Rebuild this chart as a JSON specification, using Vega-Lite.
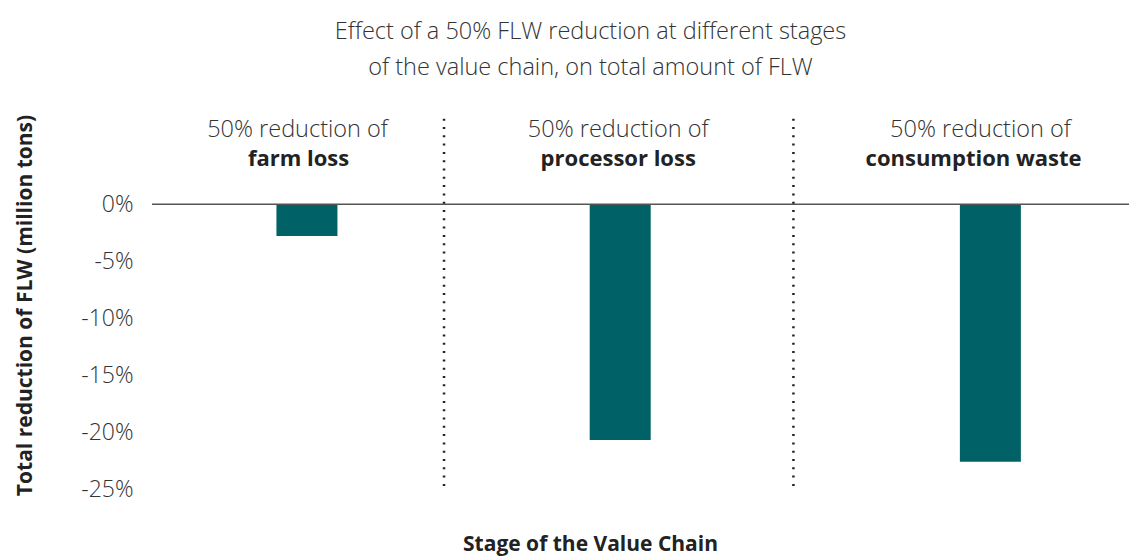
{
  "$schema": "https://vega.github.io/schema/vega-lite/v6.json",
  "width": 977,
  "height": 376,
  "autosize": "none",
  "padding": {"left": 152, "top": 113, "right": 0, "bottom": 68},
  "background": "white",
  "config": {
    "view": {"stroke": null},
    "font": "Open Sans",
    "text": {"font": "Open Sans"}
  },
  "title": {
    "text": ["Effect of a 50% FLW reduction at different stages", "of the value chain, on total amount of FLW"],
    "anchor": "middle",
    "dx": -50,
    "offset": 34,
    "fontSize": 23.5,
    "fontWeight": 300,
    "color": "#333333",
    "lineHeight": 36,
    "font": "Open Sans"
  },
  "datasets": {
    "bars": [
      {"stage": "farm loss", "pos": 151.5, "value": -2.8},
      {"stage": "processor loss", "pos": 468, "value": -20.7},
      {"stage": "consumption waste", "pos": 842, "value": -22.6}
    ],
    "dividers": [
      {"pos": 290, "top": 7.5, "bottom": -25},
      {"pos": 643, "top": 7.5, "bottom": -25}
    ],
    "labels": [
      {"pos": 142, "y": 6.5, "text": "50% reduction of", "kind": "light"},
      {"pos": 143, "y": 3.95, "text": "farm loss", "kind": "bold"},
      {"pos": 466, "y": 6.5, "text": "50% reduction of", "kind": "light"},
      {"pos": 466, "y": 3.95, "text": "processor loss", "kind": "bold"},
      {"pos": 832, "y": 6.5, "text": "50% reduction of", "kind": "light"},
      {"pos": 825, "y": 3.95, "text": "consumption waste", "kind": "bold"}
    ],
    "zero": [{"y": 0}]
  },
  "layer": [
    {
      "data": {"name": "bars"},
      "mark": {"type": "bar", "size": 61, "color": "#006266"},
      "encoding": {
        "x": {
          "field": "pos", "type": "quantitative",
          "scale": {"domain": [0, 977], "nice": false, "zero": false},
          "axis": {
            "domain": false, "ticks": false, "labels": false, "grid": false,
            "title": "Stage of the Value Chain",
            "titleFontSize": 21, "titleFontWeight": "bold", "titleColor": "#222222",
            "titleX": 438, "titleY": 61, "titleBaseline": "alphabetic", "titleFont": "Open Sans"
          }
        },
        "y": {
          "field": "value", "type": "quantitative",
          "scale": {"domain": [-25, 8], "nice": false, "zero": false},
          "axis": {
            "values": [0, -5, -10, -15, -20, -25],
            "labelExpr": "datum.value + '%'",
            "domain": false, "ticks": false, "grid": false,
            "labelFontSize": 23, "labelFontWeight": 300, "labelColor": "#333333",
            "labelPadding": 19, "labelFont": "Open Sans",
            "title": "Total reduction of FLW (million tons)",
            "titleFontSize": 21, "titleFontWeight": "bold", "titleColor": "#222222",
            "titleX": -117, "titleY": 192, "titleFont": "Open Sans"
          }
        }
      }
    },
    {
      "data": {"name": "zero"},
      "mark": {"type": "rule", "color": "#555555", "strokeWidth": 1.5},
      "encoding": {"y": {"field": "y", "type": "quantitative"}}
    },
    {
      "data": {"name": "dividers"},
      "mark": {"type": "rule", "color": "#222222", "strokeWidth": 2.5, "strokeDash": [2, 6.3]},
      "encoding": {
        "x": {"field": "pos", "type": "quantitative"},
        "y": {"field": "top", "type": "quantitative"},
        "y2": {"field": "bottom"}
      }
    },
    {
      "data": {"name": "labels"},
      "transform": [{"filter": "datum.kind === 'light'"}],
      "mark": {"type": "text", "fontSize": 23.5, "fontWeight": 300, "color": "#333333", "align": "center", "baseline": "middle"},
      "encoding": {
        "x": {"field": "pos", "type": "quantitative"},
        "y": {"field": "y", "type": "quantitative"},
        "text": {"field": "text"}
      }
    },
    {
      "data": {"name": "labels"},
      "transform": [{"filter": "datum.kind === 'bold'"}],
      "mark": {"type": "text", "fontSize": 22, "fontWeight": "bold", "color": "#222222", "align": "center", "baseline": "middle"},
      "encoding": {
        "x": {"field": "pos", "type": "quantitative"},
        "y": {"field": "y", "type": "quantitative"},
        "text": {"field": "text"}
      }
    }
  ]
}
